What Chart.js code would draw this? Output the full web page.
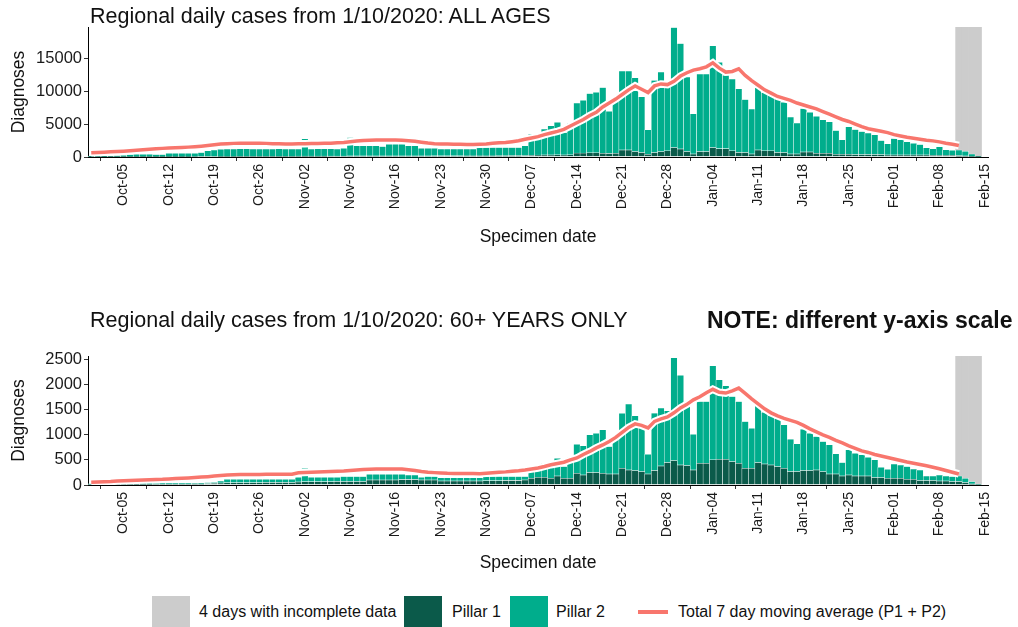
<!DOCTYPE html>
<html>
<head>
<meta charset="utf-8">
<script src="https://cdn.jsdelivr.net/npm/chart.js@4.4.0/dist/chart.umd.min.js"></script>
<style>
  body { margin: 0; width: 1018px; height: 627px; overflow: hidden; position: relative; background: #fff;
         font-family: "Liberation Sans", Arial, sans-serif; color: #111; }
  canvas { position: absolute; left: 0; }
  .title { position: absolute; left: 90px; font-size: 21.5px; white-space: nowrap; line-height: 1; }
  .note { position: absolute; left: 707px; top: 309px; font-size: 23px; font-weight: bold; white-space: nowrap; line-height: 1; }
  .lg { position: absolute; top: 603px; font-size: 16px; white-space: nowrap; }
  .box { position: absolute; top: 596px; width: 38px; height: 32px; }
</style>
</head>
<body>
<canvas id="topChart" width="1018" height="250" style="top:0"></canvas>
<canvas id="bottomChart" width="1018" height="250" style="top:330px"></canvas>

<div class="title" style="top:6px">Regional daily cases from 1/10/2020: ALL AGES</div>
<div class="title" style="top:310px">Regional daily cases from 1/10/2020: 60+ YEARS ONLY</div>
<div class="note">NOTE: different y-axis scale</div>

<div class="box" style="left:152px;background:#cccccc"></div>
<div class="lg" style="left:199px">4 days with incomplete data</div>
<div class="box" style="left:404px;background:#0b5a4a"></div>
<div class="lg" style="left:452px">Pillar 1</div>
<div class="box" style="left:510px;background:#00ad8c"></div>
<div class="lg" style="left:556px">Pillar 2</div>
<div style="position:absolute;left:638px;top:610px;width:30px;height:4px;background:#f8766d"></div>
<div class="lg" style="left:678px">Total 7 day moving average (P1 + P2)</div>

<script>
const months = ["Jan", "Feb", "Mar", "Apr", "May", "Jun", "Jul", "Aug", "Sep", "Oct", "Nov", "Dec"];

// one category per specimen day, Sep-30 .. Feb-15
const days = [];
for (let i = 0; i < 139; i++) {
  const d = new Date(Date.UTC(2020, 8, 30 + i));
  days.push(`${months[d.getUTCMonth()]}-${String(d.getUTCDate()).padStart(2, "0")}`);
}

const weekTicks = ["Oct-05", "Oct-12", "Oct-19", "Oct-26", "Nov-02", "Nov-09", "Nov-16", "Nov-23", "Nov-30",
  "Dec-07", "Dec-14", "Dec-21", "Dec-28", "Jan-04", "Jan-11", "Jan-18", "Jan-25", "Feb-01", "Feb-08", "Feb-15"];
const incompleteDays = ["Feb-11", "Feb-12", "Feb-13", "Feb-14"];
const allTicks = [0, 5000, 10000, 15000];
const oldTicks = [0, 500, 1000, 1500, 2000, 2500];

// ALL AGES
const allPillar1 = [
  30, 30, 30, 35, 35, 40, 40, 45, 45, 50,
  50, 50, 55, 55, 60, 60, 65, 70, 75, 80,
  90, 100, 100, 110, 110, 110, 120, 120, 120, 120,
  120, 120, 130, 130, 130, 130, 130, 140, 140, 140,
  150, 150, 150, 150, 150, 150, 150, 150, 150, 150,
  150, 150, 150, 160, 160, 160, 160, 160, 170, 170,
  180, 180, 180, 190, 190, 200, 200, 220, 260, 280,
  300, 300, 320, 300, 330, 600, 600, 620, 620, 560,
  520, 560, 1070, 1070, 820, 660, 400, 660, 820, 920,
  1430, 1220, 820, 460, 820, 820, 1430, 1250, 1250, 920,
  660, 660, 460, 1070, 920, 920, 660, 660, 460, 460,
  760, 760, 560, 560, 560, 400, 400, 400, 350, 350,
  350, 350, 350, 300, 300, 300, 300, 300, 300, 300,
  250, 250, 250, 250, 200, 150, 100, 40, null
];
const allPillar2 = [
  120, 120, 140, 145, 165, 210, 320, 365, 365, 360,
  310, 310, 505, 505, 500, 500, 495, 590, 845, 990,
  1080, 1120, 1120, 1140, 1140, 1110, 1100, 1080, 1100, 1130,
  1100, 1080, 1090, 2620, 1090, 1120, 1120, 1110, 1080, 1160,
  2800, 1530, 1530, 1550, 1530, 1430, 1790, 1790, 1790, 1530,
  1530, 1180, 1180, 1170, 1060, 1060, 1060, 1060, 1050, 1050,
  1250, 1250, 1250, 1240, 1240, 1230, 1230, 1480, 3210, 2620,
  3930, 4440, 4930, 3400, 4770, 7600, 8020, 9020, 9220, 9990,
  6420, 7960, 11990, 11990, 11220, 8470, 3730, 10970, 12080, 9980,
  18220, 16020, 11330, 6090, 11780, 11780, 15470, 13150, 11150, 10910,
  9690, 8060, 6830, 9430, 8880, 8360, 8190, 7640, 5610, 4690,
  6610, 6040, 5610, 5100, 4770, 3630, 2200, 4190, 3830, 3530,
  3270, 3020, 2150, 1690, 2500, 2300, 2000, 1790, 1590, 1080,
  1000, 1280, 850, 750, 850, 700, 360, 80, null
];
const allAverage = [
  660, 700, 740, 790, 840, 890, 960, 1030, 1100, 1180,
  1250, 1310, 1350, 1400, 1440, 1500, 1560, 1640, 1740, 1850,
  1960, 2030, 2070, 2090, 2100, 2100, 2090, 2070, 2030, 2000,
  1990, 1990, 2000, 2020, 2040, 2060, 2080, 2100, 2150, 2220,
  2320, 2420, 2500, 2550, 2580, 2600, 2600, 2580, 2540, 2470,
  2380, 2250, 2120, 2020, 1990, 1970, 1950, 1930, 1910, 1900,
  1950, 1990, 2080, 2150, 2200, 2330, 2480, 2700, 2900, 3100,
  3400, 3650, 3900, 4200, 4700, 5200, 5700, 6300, 6800, 7600,
  8200, 8800, 9500, 10200, 10800, 10300, 9800, 10800, 11100, 11000,
  11500, 12300, 12800, 13200, 13400, 13700, 14300, 13500, 12900, 13000,
  13400, 12400, 11600, 10900, 10200, 9700, 9200, 8900, 8600, 8200,
  7900, 7600, 7300, 6900, 6500, 6100, 5700, 5400, 5000, 4600,
  4300, 4100, 3900, 3700, 3400, 3200, 3000, 2850, 2700, 2550,
  2450, 2300, 2100, 1950, 1750, null, null, null, null
];

// 60+ YEARS ONLY
const oldPillar1 = [
  10, 10, 10, 12, 12, 12, 15, 15, 15, 15,
  20, 20, 20, 20, 20, 20, 25, 25, 30, 35,
  40, 45, 45, 45, 45, 45, 45, 47, 47, 47,
  47, 47, 60, 65, 65, 65, 65, 65, 67, 67,
  67, 67, 67, 100, 100, 100, 100, 100, 110, 110,
  110, 100, 100, 100, 80, 80, 80, 80, 80, 80,
  80, 85, 85, 85, 90, 90, 90, 100, 133, 153,
  153, 133, 180, 133, 133, 233, 200, 247, 247, 233,
  220, 220, 333, 300, 287, 267, 220, 287, 380, 447,
  487, 400, 387, 300, 433, 433, 500, 513, 513, 467,
  433, 333, 333, 447, 420, 400, 367, 333, 267, 267,
  287, 287, 300, 267, 220, 220, 180, 200, 180, 180,
  180, 147, 147, 133, 133, 133, 113, 113, 87, 87,
  87, 80, 80, 67, 67, 47, 20, 10, null
];
const oldPillar2 = [
  15, 15, 18, 18, 18, 20, 20, 20, 23, 25,
  20, 13, 13, 15, 15, 15, 10, 15, 17, 12,
  40, 68, 68, 68, 68, 68, 68, 66, 66, 66,
  66, 66, 93, 268, 88, 88, 88, 88, 86, 100,
  100, 100, 100, 113, 113, 113, 113, 113, 103, 90,
  90, 53, 67, 67, 65, 65, 65, 65, 65, 65,
  65, 82, 82, 82, 77, 77, 77, 67, 167, 137,
  280, 314, 353, 237, 420, 580, 580, 753, 786, 867,
  547, 747, 1100, 1313, 1093, 900, 393, 1146, 1153, 1033,
  2053, 1787, 1180, 713, 1234, 1234, 1880, 1587, 1467, 1300,
  1234, 934, 800, 1153, 1033, 987, 966, 867, 646, 553,
  826, 746, 667, 600, 580, 400, 267, 500, 453, 420,
  373, 353, 206, 180, 287, 267, 254, 207, 213, 93,
  93, 120, 100, 100, 113, 86, 47, 10, null
];
const oldAverage = [
  55, 60, 65, 70, 78, 85, 90, 95, 100, 105,
  110, 113, 120, 128, 135, 142, 150, 158, 167, 178,
  190, 200, 207, 210, 210, 212, 212, 213, 213, 213,
  213, 215, 245, 250, 255, 260, 265, 270, 275, 280,
  290, 300, 310, 315, 320, 320, 320, 320, 318, 305,
  290, 270, 255, 247, 240, 233, 230, 230, 230, 228,
  225, 235, 245, 255, 262, 275, 285, 300, 320, 340,
  370, 405, 430, 455, 500, 540, 610, 670, 740, 800,
  870, 950, 1050, 1150, 1220, 1190, 1140, 1270, 1320, 1360,
  1440, 1540, 1610, 1700, 1760, 1840, 1910, 1850, 1835, 1880,
  1935, 1830, 1720, 1620, 1520, 1440, 1380, 1330, 1290, 1250,
  1190, 1120, 1060, 1000, 950, 890, 840, 780, 730, 680,
  650, 610, 580, 550, 520, 490, 460, 435, 410, 385,
  355, 325, 290, 255, 220, null, null, null, null
];

const FONT = "'Liberation Sans', Arial, sans-serif";
const SALMON = "#f8766d";
const DARK = "#0b5a4a";
const TEAL = "#00ad8c";
const GREY = "#cccccc";

function drawPanel(canvasId, pillar1, pillar2, average, yMax, yTicks, padTop, xAxisHeight, xTitlePad) {
  const incomplete = days.map((d) => (incompleteDays.includes(d) ? yMax : null));
  const bar = { barPercentage: 1, categoryPercentage: 1, borderColor: "#fff", borderWidth: 0.5, borderSkipped: false };

  new Chart(document.getElementById(canvasId), {
    data: {
      labels: days,
      datasets: [
        { type: "line", label: "Total 7 day moving average (P1 + P2)", data: average, borderColor: SALMON,
          borderWidth: 3.5, pointRadius: 0, stack: "avg", order: 0 },
        { type: "line", label: "halo", data: average, borderColor: "#fff",
          borderWidth: 7.5, pointRadius: 0, stack: "halo", order: 1 },
        { type: "bar", label: "Pillar 1", data: pillar1, backgroundColor: DARK, stack: "cases", order: 2, ...bar },
        { type: "bar", label: "Pillar 2", data: pillar2, backgroundColor: TEAL, stack: "cases", order: 3, ...bar },
        { type: "bar", label: "4 days with incomplete data", data: incomplete, backgroundColor: GREY,
          barPercentage: 1, categoryPercentage: 1, borderWidth: 0, grouped: false, stack: "grey", order: 4 },
      ],
    },
    options: {
      responsive: false,
      animation: false,
      layout: { padding: { top: padTop, right: 30, left: 0, bottom: 0 } },
      plugins: { legend: { display: false }, tooltip: { enabled: false } },
      scales: {
        x: {
          stacked: true,
          offset: true,
          grid: { drawOnChartArea: false, drawTicks: true, tickLength: 4, color: "#333" },
          border: { display: true, color: "#000", width: 1 },
          ticks: {
            autoSkip: false, minRotation: 90, maxRotation: 90, padding: 3, color: "#1a1a1a",
            font: { family: FONT, size: 14 },
            callback(value) {
              const label = this.getLabelForValue(value);
              return weekTicks.includes(label) ? label : null;
            },
          },
          title: { display: true, text: "Specimen date", color: "#111", font: { family: FONT, size: 17.5 },
                   padding: { top: 0, bottom: xTitlePad } },
          afterFit: (s) => { s.height = xAxisHeight; },
        },
        y: {
          stacked: true,
          min: 0,
          max: yMax,
          grid: { drawOnChartArea: false, drawTicks: true, tickLength: 4, color: "#333" },
          border: { display: true, color: "#000", width: 1 },
          ticks: { padding: 2, color: "#1a1a1a", font: { family: FONT, size: 16.5 },
                   callback: (v) => String(v) },
          afterBuildTicks: (s) => { s.ticks = yTicks.map((v) => ({ value: v })); },
          title: { display: true, text: "Diagnoses", color: "#111", font: { family: FONT, size: 17.5 },
                   padding: { top: 9, bottom: 0 } },
          afterFit: (s) => { s.width = 88; },
        },
      },
    },
  });
}

drawPanel("topChart", allPillar1, allPillar2, allAverage, 19750, allTicks, 27, 93, 2.5);
drawPanel("bottomChart", oldPillar1, oldPillar2, oldAverage, 2575, oldTicks, 26, 95, 6.5);
</script>
</body>
</html>
